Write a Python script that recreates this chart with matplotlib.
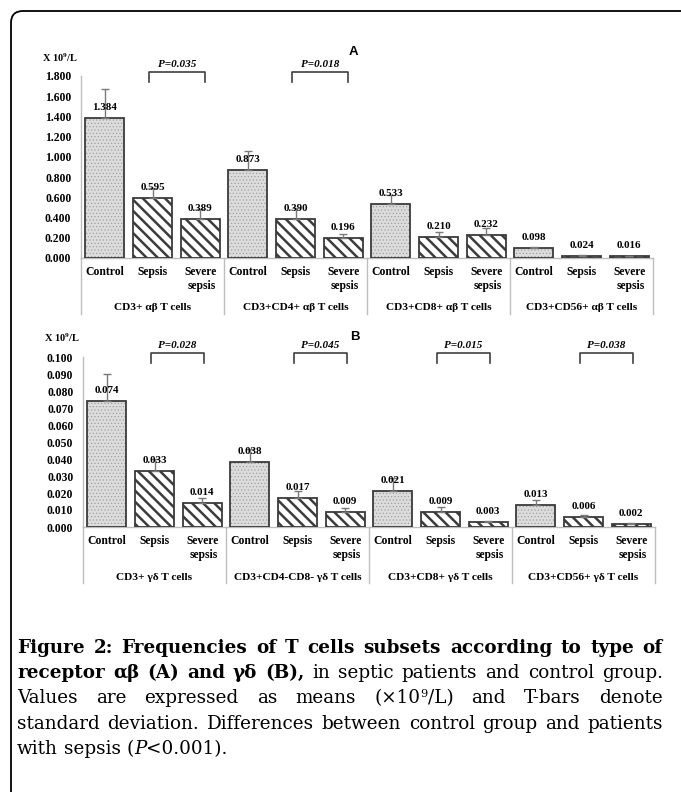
import numpy as np
import matplotlib
matplotlib.use("Agg")
import matplotlib.pyplot as plt
import matplotlib.patches as mpatches

W, H = 681, 792
SERIF = "Liberation Serif"
CAP_FONT = "DejaVu Serif"

plt.rcParams["font.family"] = [SERIF, "DejaVu Serif"]
plt.rcParams["mathtext.fontset"] = "custom"
plt.rcParams["mathtext.rm"] = "Liberation Serif:bold"
plt.rcParams["mathtext.bf"] = "Liberation Serif:bold"
plt.rcParams["mathtext.it"] = "Liberation Serif:italic:bold"

# ---- data (x10^9/L) ----
conditions = ["Control", "Sepsis", "Severe\nsepsis"]

groups_A = ["CD3+ αβ T cells", "CD3+CD4+ αβ T cells",
            "CD3+CD8+ αβ T cells", "CD3+CD56+ αβ T cells"]
means_A = [1.384, 0.595, 0.389,
           0.873, 0.390, 0.196,
           0.533, 0.210, 0.232,
           0.098, 0.024, 0.016]
sd_A = [0.29, 0.10, 0.10,
        0.19, 0.10, 0.045,
        0.09, 0.05, 0.06,
        0.013, 0.005, 0.004]
pvals_A = {0: "P=0.035", 1: "P=0.018"}

groups_B = ["CD3+ γδ T cells", "CD3+CD4-CD8- γδ T cells",
            "CD3+CD8+ γδ T cells", "CD3+CD56+ γδ T cells"]
means_B = [0.074, 0.033, 0.014,
           0.038, 0.017, 0.009,
           0.021, 0.009, 0.003,
           0.013, 0.006, 0.002]
sd_B = [0.016, 0.007, 0.003,
        0.008, 0.004, 0.0024,
        0.008, 0.0025, 0.0005,
        0.003, 0.0012, 0.0004]
pvals_B = {0: "P=0.028", 1: "P=0.045", 2: "P=0.015", 3: "P=0.038"}

fig = plt.figure(figsize=(W / 100, H / 100), dpi=100)


def fx(px):
    return px / W


def fy(py):
    return 1 - py / H


def draw_panel(ax, means, sds, groups, pvals, ymax, ystep, h_px, br):
    n = len(means)
    x = np.arange(n) + 0.5
    ctrl = [i for i in range(n) if i % 3 == 0]
    rest = [i for i in range(n) if i % 3 != 0]
    bw = 0.82

    with plt.rc_context({"hatch.linewidth": 0.5}):
        ax.bar(x[ctrl], [means[i] for i in ctrl], bw, color="#dcdcdc",
               edgecolor="#a0a0a0", hatch=".....", linewidth=0, zorder=2)
    with plt.rc_context({"hatch.linewidth": 1.8}):
        ax.bar(x[rest], [means[i] for i in rest], bw, color="white",
               edgecolor="#3c3c3c", hatch="\\\\\\", linewidth=0, zorder=2)
    ax.bar(x, means, bw, fill=False, edgecolor="#3a3a3a", linewidth=1.3, zorder=3)

    ax.errorbar(x, means, yerr=[np.zeros(n), sds], fmt="none", ecolor="#7a7a7a",
                elinewidth=1, capsize=3, capthick=1, zorder=4)

    for xi, m in zip(x, means):
        ax.annotate(f"{m:.3f}", (xi, m), xytext=(0, 6), textcoords="offset pixels",
                    ha="center", va="bottom", fontsize=7.9, fontweight="bold",
                    zorder=5)

    ax.set_xlim(0, n)
    ax.set_ylim(0, ymax)
    ax.set_yticks(np.arange(0, ymax + ystep / 2, ystep))
    ax.yaxis.set_major_formatter(matplotlib.ticker.FormatStrFormatter("%.3f"))
    ax.tick_params(axis="y", length=0, pad=7, labelsize=8.4)
    for lab in ax.get_yticklabels():
        lab.set_fontweight("bold")
    ax.set_xticks([])
    for s in ["top", "right"]:
        ax.spines[s].set_visible(False)
    for s in ["left", "bottom"]:
        ax.spines[s].set_color("#bdbdbd")
        ax.spines[s].set_linewidth(1)

    tr = ax.get_xaxis_transform()
    for xi, i in zip(x, range(n)):
        ax.text(xi, -8 / h_px, conditions[i % 3], transform=tr, ha="center",
                va="top", multialignment="right", fontsize=8.4,
                fontweight="bold", linespacing=1.25)
    for g, name in enumerate(groups):
        ax.text(3 * g + 1.5, -50 / h_px, name, transform=tr, ha="center",
                va="center", fontsize=8.2, fontweight="bold")
    for b in range(0, n + 1, 3):
        ax.plot([b, b], [0, -56 / h_px], transform=tr, color="#bdbdbd",
                lw=1, clip_on=False)

    for g, txt in pvals.items():
        x1 = 3 * g + 1.5 + br[0]
        x2 = 3 * g + 2.5 + br[1]
        ax.plot([x1, x1, x2, x2], [0.967, 1.022, 1.022, 0.967], transform=tr,
                color="#404040", lw=1.2, clip_on=False)
        ax.text((x1 + x2) / 2, 1.04, txt, transform=tr, ha="center",
                va="bottom", fontsize=8, fontweight="bold", style="italic")


# panel A
axA = fig.add_axes([fx(81), fy(258), fx(653 - 81), (258 - 76) / H])
draw_panel(axA, means_A, sd_A, groups_A, pvals_A, 1.8, 0.2, 182, (-0.08, 0.1))
fig.text(fx(60), fy(58), "X 10$^{9}$/L", ha="center", va="center",
         fontsize=7.5, fontweight="bold")
fig.text(fx(353), fy(52), "A", ha="center", va="center", fontsize=9.5,
         fontweight="bold", family="Liberation Sans")

# panel B
axB = fig.add_axes([fx(83), fy(527), fx(655 - 83), (527 - 357) / H])
draw_panel(axB, means_B, sd_B, groups_B, pvals_B, 0.1, 0.01, 170, (-0.08, 0.03))
fig.text(fx(62), fy(338), "X 10$^{9}$/L", ha="center", va="center",
         fontsize=7.5, fontweight="bold")
fig.text(fx(355), fy(337), "B", ha="center", va="center", fontsize=9.5,
         fontweight="bold", family="Liberation Sans")

# rounded frame
frame = mpatches.FancyBboxPatch((0.11, -0.3), 7.2, 7.81 + 0.3,
                                boxstyle="round,pad=0,rounding_size=0.12",
                                transform=fig.dpi_scale_trans, fill=False,
                                edgecolor="black", lw=1.3)
fig.patches.append(frame)

# ---- caption, justified ----
cap_lines = [
    [("Figure 2: Frequencies of T cells subsets according to type of", "b")],
    [("receptor αβ (A) and γδ (B),", "b"),
     (" in septic patients and control group.", "r")],
    [("Values are expressed as means (×10", "r"), ("9", "sup"),
     ("/L) and T-bars denote", "r")],
    [("standard deviation. Differences between control group and patients", "r")],
    [("with sepsis (", "r"), ("P", "i"), ("<0.001).", "r")],
]
cap_size = 13.2
cap_left, cap_right = 17, 663
cap_base0, cap_step = 653, 25.2


def seg_props(style):
    if style == "b":
        return dict(fontsize=cap_size, fontweight="bold")
    if style == "i":
        return dict(fontsize=cap_size, style="italic")
    if style == "sup":
        return dict(fontsize=cap_size * 0.62)
    return dict(fontsize=cap_size)


def words_of(chunks):
    words = [[]]
    for text, style in chunks:
        parts = text.split(" ")
        for k, p in enumerate(parts):
            if k > 0:
                words.append([])
            if p:
                words[-1].append((p, style))
    return [w for w in words if w]


renderer = fig.canvas.get_renderer()


def seg_width(text, style):
    t = fig.text(0, 0, text, family=CAP_FONT, **seg_props(style))
    w = t.get_window_extent(renderer).width
    t.remove()
    return w


for li, chunks in enumerate(cap_lines):
    words = words_of(chunks)
    widths = [[seg_width(s, st) for s, st in w] for w in words]
    totals = [sum(w) for w in widths]
    if li < len(cap_lines) - 1:
        gap = (cap_right - cap_left - sum(totals)) / (len(words) - 1)
    else:
        gap = seg_width("a a", "r") - seg_width("aa", "r")
    base = cap_base0 + li * cap_step
    xpos = cap_left
    for w, ws in zip(words, widths):
        xs = xpos
        for (s, st), sw in zip(w, ws):
            yb = base - (cap_size * 0.36 * 100 / 72 if st == "sup" else 0)
            fig.text(fx(xs), fy(yb), s, ha="left", va="baseline",
                     family=CAP_FONT, **seg_props(st))
            xs += sw
        xpos += sum(ws) + gap

fig.savefig("out.png", dpi=100)
